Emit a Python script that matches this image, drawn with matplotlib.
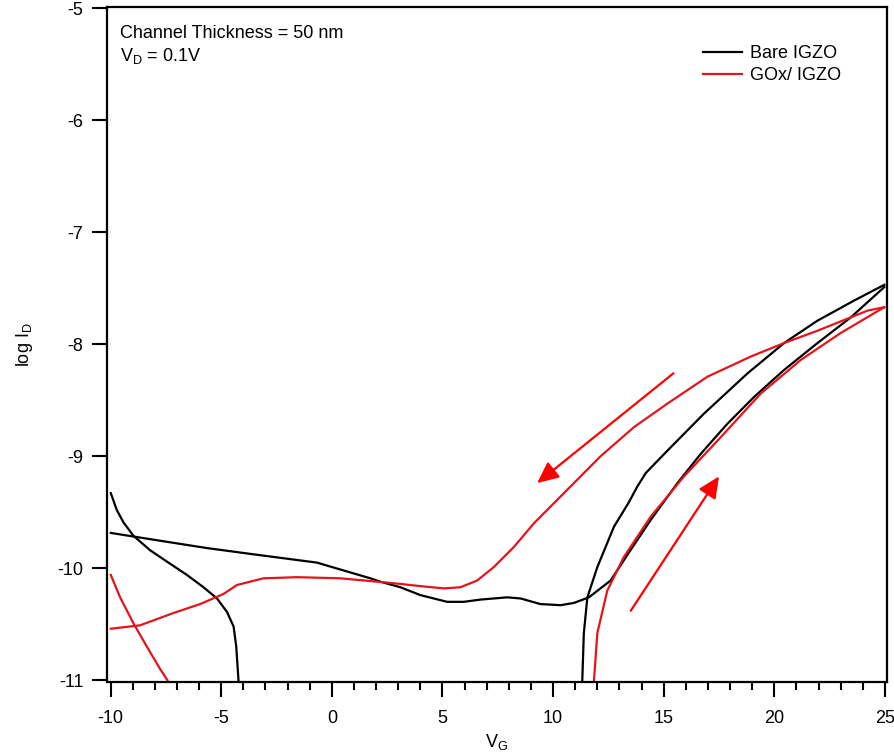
import matplotlib
matplotlib.use("Agg")
import matplotlib.pyplot as plt

plt.rcParams['font.family'] = ['Liberation Sans', 'DejaVu Sans']
plt.rcParams['axes.unicode_minus'] = False

# Bare IGZO: reverse sweep tail at negative bias (steep drop)
bare_tail_vg = [-9.99, -9.72, -9.42, -8.97, -8.21, -7.46, -6.55, -5.80, -5.19, -4.74, -4.44, -4.32, -4.22]
bare_tail_id = [-9.33, -9.48, -9.59, -9.71, -9.84, -9.94, -10.06, -10.17, -10.27, -10.39, -10.52, -10.70, -11.0]

# Bare IGZO: flat off-state going into the lower branch
bare_low_vg = [-9.99, -7.91, -5.65, -3.38, -0.67, 0.53, 1.74, 2.19, 3.10, 4.00, 5.21, 5.96, 6.72, 7.93, 8.53,
               9.43, 10.34, 10.94, 11.62, 12.60, 13.36, 14.41, 15.62, 16.67, 17.88, 19.09, 20.44, 21.95, 23.46, 24.97]
bare_low_id = [-9.685, -9.75, -9.82, -9.88, -9.95, -10.02, -10.09, -10.12, -10.17, -10.24, -10.30, -10.30, -10.28,
               -10.26, -10.27, -10.32, -10.33, -10.31, -10.26, -10.11, -9.88, -9.57, -9.24, -8.98, -8.71, -8.47,
               -8.23, -7.99, -7.76, -7.49]

# Bare IGZO: upper branch rising from the turn-on near 11 V
bare_up_vg = [11.32, 11.39, 11.55, 12.0, 12.75, 13.40, 13.81, 14.19, 15.17, 16.82, 18.79, 20.44, 21.95, 23.61, 24.97]
bare_up_id = [-11.0, -10.58, -10.26, -9.99, -9.63, -9.42, -9.27, -9.15, -8.95, -8.62, -8.26, -7.99, -7.79, -7.61, -7.47]

# GOx/IGZO: steep tail at negative bias
gox_tail_vg = [-9.99, -9.57, -8.97, -8.36, -7.76, -7.43]
gox_tail_id = [-10.06, -10.26, -10.49, -10.70, -10.90, -11.0]

# GOx/IGZO: off-state plateau joined to the upper (reverse) branch
gox_up_vg = [-9.99, -8.67, -7.16, -5.95, -4.90, -4.29, -3.09, -1.57, 0.38, 2.04, 3.10, 4.00, 5.06, 5.81, 6.57,
             7.32, 8.23, 9.13, 10.64, 12.15, 13.66, 15.17, 16.98, 18.94, 20.44, 21.95, 23.46, 24.22, 24.97]
gox_up_id = [-10.54, -10.51, -10.40, -10.32, -10.23, -10.15, -10.09, -10.08, -10.09, -10.12, -10.14, -10.16,
             -10.18, -10.17, -10.11, -9.99, -9.81, -9.60, -9.30, -9.00, -8.74, -8.53, -8.29, -8.11, -7.99, -7.88,
             -7.76, -7.70, -7.67]

# GOx/IGZO: lower (forward) branch
gox_low_vg = [11.85, 12.0, 12.45, 13.20, 14.41, 15.92, 17.58, 19.39, 21.20, 23.0, 24.97]
gox_low_id = [-11.0, -10.58, -10.2, -9.90, -9.54, -9.18, -8.83, -8.44, -8.14, -7.90, -7.67]

# Sweep-direction arrows: (tail V, tail logI, head V, head logI)
arrow_reverse = (15.44, -8.26, 9.28, -9.24)
arrow_forward = (13.51, -10.38, 17.50, -9.18)

BLACK = "#000000"
RED = "#e3141b"
FS = 13

fig = plt.figure(figsize=(8.95, 7.56), dpi=100)
ax = fig.add_axes([0.1196, 0.098, 0.8714, 0.8927])

lw = 1.6
ax.plot(bare_low_vg, bare_low_id, color=BLACK, lw=lw, label="Bare IGZO")
ax.plot(bare_tail_vg, bare_tail_id, color=BLACK, lw=lw)
ax.plot(bare_up_vg, bare_up_id, color=BLACK, lw=lw)
ax.plot(gox_up_vg, gox_up_id, color=RED, lw=lw, label="GOx/ IGZO")
ax.plot(gox_tail_vg, gox_tail_id, color=RED, lw=lw)
ax.plot(gox_low_vg, gox_low_id, color=RED, lw=lw)

for x0, y0, x1, y1 in (arrow_reverse, arrow_forward):
    ax.annotate("", xy=(x1, y1), xytext=(x0, y0),
                arrowprops=dict(arrowstyle="-|>,head_length=1.3,head_width=0.6",
                                color="#ff0000", lw=1.6, shrinkA=0, shrinkB=0))

ax.set_xlim(-10.16, 25.09)
ax.set_ylim(-11.015, -4.99)
ax.set_xticks(range(-10, 26, 5))
ax.set_xticks(range(-10, 26, 1), minor=True)
ax.set_yticks(range(-11, -4, 1))

for s in ax.spines.values():
    s.set_linewidth(1.6)
ax.tick_params(which="major", direction="out", length=11, width=1.5, labelsize=FS)
ax.tick_params(axis="x", which="major", pad=9)
ax.tick_params(axis="y", which="major", pad=6)
ax.tick_params(which="minor", direction="out", length=5.5, width=1.5)
ax.tick_params(axis="y", which="minor", left=False)

ax.set_xlabel(r"V$_\mathregular{G}$", fontsize=FS, labelpad=4)
ax.set_ylabel(r"log I$_\mathregular{D}$", fontsize=FS, labelpad=16)

ax.text(120, 756 - 33, "Channel Thickness = 50 nm", transform=None, fontsize=FS, va="center")
ax.text(120, 756 - 56, r"V$_\mathregular{D}$ = 0.1V", transform=None, fontsize=FS, va="center")

leg = ax.legend(loc="upper left", bbox_to_anchor=(703 / 895, 1 - 45 / 756),
                bbox_transform=fig.transFigure, frameon=False, fontsize=FS,
                borderpad=0, borderaxespad=0, handlelength=2.15, handletextpad=0.45,
                labelspacing=0.28)

fig.savefig("out.png", dpi=100)
